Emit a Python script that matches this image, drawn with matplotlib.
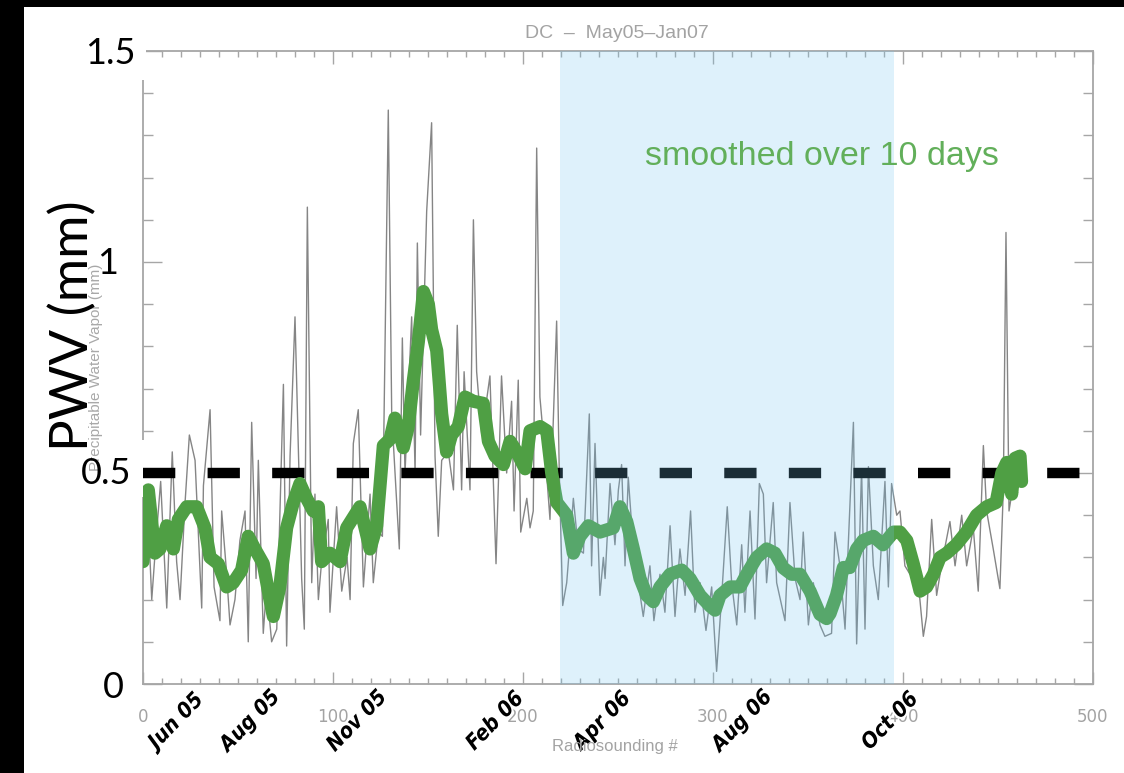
import matplotlib
matplotlib.use("Agg")
import matplotlib.pyplot as plt
import matplotlib.patheffects as pe
from matplotlib.patches import Rectangle
from matplotlib.ticker import MultipleLocator
from matplotlib.transforms import blended_transform_factory

# ---- data -------------------------------------------------------------
# individual radiosounding values (sounding number, PWV in mm)
raw_x = [0, 2, 4.6, 7, 9.3, 12.5, 15.4, 17.7, 19.5, 22,
         24.4, 27.4, 30.9, 31.8, 35.3, 37.4, 40.5, 41.4, 43.7, 45.8,
         48.4, 51, 53.7, 55.4, 57.2, 59.5, 60.7, 63.3, 65, 67.7,
         70.4, 73.9, 75.6, 77.4, 80, 83.5, 84.9, 86.5, 88.8, 90.5,
         92.3, 94, 97.5, 98.4, 101.9, 104.6, 107.4, 109, 110.7, 113.3,
         116, 119.5, 121.2, 123.9, 126, 129.1, 130.9, 134.9, 136.5, 137.9,
         141.4, 143.2, 144.4, 146.1, 149.3, 151.9, 153.7, 155.4, 157.2, 160.7,
         163.4, 165.4, 167.7, 169, 172.1, 173.9, 175.6, 178.3, 182.6, 185.8,
         188.7, 191.4, 194, 195.3, 197.5, 198.8, 202, 203.7, 205.4, 207.2,
         208.9, 212.4, 214.2, 217.7, 219.1, 220.9, 223, 226.5, 229.1, 231.8,
         234.9, 236.1, 237.9, 240.5, 242.3, 243.2, 245.8, 248.4, 250.2, 251.9,
         253.7, 255.4, 258.1, 263.3, 266.8, 268.9, 272.1, 274.7, 277.4, 280,
         282.6, 285.3, 288.2, 290.5, 293.2, 296.3, 299.3, 301.9, 304.6, 307.5,
         309.8, 312.5, 315.1, 316.8, 319.5, 322.1, 324.4, 326.5, 328.2, 331.7,
         333.5, 337.9, 340.5, 343.2, 345.8, 347.5, 350.2, 352.8, 356.3, 358.9,
         362.4, 364.2, 366.8, 369.5, 371.1, 373.9, 375.6, 378.2, 380, 381.8,
         384.4, 387, 390.5, 392.3, 394, 396.7, 398.4, 401, 403.7, 406.3,
         409, 410.7, 412.4, 415.1, 417.7, 420.4, 424.7, 427.4, 430.9, 433.5,
         437, 439.6, 442.3, 444, 447.5, 451, 452.8, 454.2, 455.8, 457.2,
         459]
raw_pwv = [0.30, 0.47, 0.20, 0.35, 0.48, 0.18, 0.55, 0.29, 0.20, 0.42,
           0.59, 0.53, 0.18, 0.47, 0.65, 0.23, 0.15, 0.41, 0.28, 0.14,
           0.20, 0.34, 0.41, 0.10, 0.62, 0.25, 0.53, 0.12, 0.23, 0.10,
           0.13, 0.71, 0.09, 0.54, 0.87, 0.25, 0.13, 1.13, 0.24, 0.45,
           0.20, 0.29, 0.39, 0.17, 0.42, 0.22, 0.30, 0.20, 0.57, 0.65,
           0.23, 0.45, 0.24, 0.36, 0.35, 1.36, 0.64, 0.32, 0.82, 0.50,
           0.87, 0.50, 1.045, 0.59, 1.12, 1.33, 0.54, 0.35, 0.53, 0.55,
           0.46, 0.85, 0.46, 0.74, 0.46, 1.10, 0.74, 0.59, 0.73, 0.285,
           0.73, 0.50, 0.67, 0.41, 0.72, 0.36, 0.44, 0.37, 0.41, 1.27,
           0.68, 0.50, 0.39, 0.86, 0.50, 0.186, 0.24, 0.44, 0.32, 0.31,
           0.64, 0.28, 0.57, 0.21, 0.30, 0.25, 0.475, 0.33, 0.46, 0.52,
           0.28, 0.49, 0.32, 0.16, 0.28, 0.15, 0.26, 0.17, 0.375, 0.16,
           0.32, 0.21, 0.41, 0.17, 0.24, 0.127, 0.23, 0.03, 0.21, 0.42,
           0.24, 0.14, 0.33, 0.17, 0.41, 0.154, 0.475, 0.45, 0.24, 0.43,
           0.24, 0.15, 0.43, 0.25, 0.20, 0.36, 0.14, 0.24, 0.14, 0.113,
           0.12, 0.36, 0.28, 0.13, 0.32, 0.62, 0.095, 0.51, 0.13, 0.515,
           0.28, 0.20, 0.48, 0.23, 0.475, 0.40, 0.41, 0.28, 0.26, 0.32,
           0.195, 0.113, 0.16, 0.39, 0.21, 0.285, 0.385, 0.28, 0.40, 0.28,
           0.37, 0.22, 0.565, 0.41, 0.32, 0.226, 0.46, 1.07, 0.41, 0.45,
           0.52]

# 10-day running mean
smooth_x = [0, 2.8, 6.3, 8.9, 12.5, 16, 18.6, 23, 28.2, 32.6,
            35.3, 39.6, 44, 47.5, 51.9, 55.4, 58.9, 63.3, 66.8, 68.6,
            72, 75.6, 79.1, 82.6, 86.1, 89.6, 92.3, 94, 98.4, 103.7,
            107.2, 114.2, 119.5, 123, 126.5, 130, 132.6, 135.3, 137, 139.6,
            142.3, 144.9, 147.6, 150.2, 151.9, 154.6, 157.2, 159.8, 162.4, 165.9,
            169.5, 173.9, 179.1, 181.8, 185.3, 189.7, 193.2, 196.7, 201.1, 203.7,
            209, 212.5, 215.1, 217.8, 223, 226.5, 230, 234.4, 240.5, 247.5,
            251, 254.6, 258.1, 261.6, 265.1, 268.6, 272.1, 277.4, 283.5, 287.9,
            293.2, 298.4, 301.1, 303.7, 309, 314.2, 317.7, 323, 328.2, 332.6,
            337, 341.4, 345.8, 351.1, 356.3, 359.8, 361.6, 365, 368.6, 372,
            375.6, 379, 384.4, 389.5, 395, 398.4, 402, 405.4, 409, 412.4,
            416, 419.5, 423, 428, 433.4, 438.7, 444, 449, 452, 454.6,
            457.2, 459, 461.6, 462.4]
smooth_pwv = [0.29, 0.46, 0.31, 0.32, 0.375, 0.32, 0.39, 0.42, 0.42, 0.37,
              0.30, 0.285, 0.23, 0.24, 0.27, 0.35, 0.32, 0.285, 0.20, 0.16,
              0.23, 0.37, 0.43, 0.475, 0.44, 0.41, 0.42, 0.29, 0.31, 0.29,
              0.37, 0.42, 0.32, 0.375, 0.565, 0.58, 0.63, 0.59, 0.56, 0.61,
              0.72, 0.81, 0.93, 0.90, 0.84, 0.79, 0.64, 0.55, 0.59, 0.61,
              0.68, 0.67, 0.665, 0.575, 0.54, 0.52, 0.575, 0.55, 0.51, 0.60,
              0.61, 0.60, 0.50, 0.43, 0.40, 0.31, 0.35, 0.375, 0.36, 0.37,
              0.42, 0.385, 0.32, 0.25, 0.21, 0.195, 0.23, 0.26, 0.27, 0.25,
              0.21, 0.185, 0.175, 0.21, 0.23, 0.23, 0.26, 0.30, 0.32, 0.31,
              0.275, 0.26, 0.26, 0.22, 0.165, 0.155, 0.167, 0.21, 0.276, 0.276,
              0.32, 0.34, 0.35, 0.33, 0.36, 0.36, 0.34, 0.285, 0.22, 0.23,
              0.26, 0.30, 0.31, 0.33, 0.36, 0.40, 0.42, 0.43, 0.50, 0.525,
              0.45, 0.535, 0.54, 0.48]

threshold = 0.5
season_span = (219.5, 395.5)

month_labels = ["Jun 05", "Aug 05", "Nov 05", "Feb 06", "Apr 06", "Aug 06", "Oct 06"]
month_pos = [17.4, 56.3, 112.6, 185.3, 241.6, 315.3, 393.2]
x_ticks = [0, 100, 200, 300, 400, 500]
y_ticks = [0, 0.5, 1, 1.5]
y_tick_text = ["0", "0.5", "1", "1.5"]

assert len(raw_x) == len(raw_pwv)
assert len(smooth_x) == len(smooth_pwv)

# ---- figure -----------------------------------------------------------
W, H = 1124, 773
fig = plt.figure(figsize=(W / 100, H / 100), dpi=100, facecolor="black")
fig.add_artist(Rectangle((24 / W, 0), 1 - 24 / W, 1 - 7 / H, transform=fig.transFigure,
                         facecolor="white", edgecolor="none", zorder=-10))

def fx(px):
    return px / W

def fy(py):
    return 1 - py / H

ax = fig.add_axes([fx(143), fy(684), (1093 - 143) / W, (684 - 51) / H])
ax.set_facecolor("none")
ax.set_xlim(0, 500)
ax.set_ylim(0, 1.5)

axis_grey = "#a6a6a6"
for s in ax.spines.values():
    s.set_color(axis_grey)
    s.set_linewidth(1.3)

ax.set_xticks(x_ticks)
ax.xaxis.set_minor_locator(MultipleLocator(10))
ax.set_yticks(y_ticks)
ax.yaxis.set_minor_locator(MultipleLocator(0.1))
ax.tick_params(which="both", direction="in", top=True, right=True,
               color=axis_grey, width=1.0, labelleft=False)
ax.tick_params(axis="x", which="major", length=9, labelsize=12,
               labelcolor="#a3a3a3", pad=17)
ax.tick_params(axis="x", which="minor", length=4)
ax.tick_params(axis="y", which="major", length=14)
ax.tick_params(axis="y", which="minor", length=7)

# raw soundings and smoothed curve
ax.plot(raw_x, raw_pwv, color="#858585", lw=1.0, zorder=2)
ax.axhline(threshold, color="black", lw=7.5, dashes=(3.1, 3.1), zorder=2.8)
ax.plot(smooth_x, smooth_pwv, color="#4f9f44", lw=9.5, solid_joinstyle="round",
        solid_capstyle="round", zorder=3)

# highlighted season drawn as a translucent overlay
ax.axvspan(*season_span, color="#73c4ee", alpha=0.235, lw=0, zorder=4)

ax.text(264.2, 1.23, "smoothed over 10 days", color="#62af5a", fontsize=24.5,
        family=["Liberation Sans", "DejaVu Sans"], ha="left", va="baseline", zorder=5)

# month annotations below the axis
tr = blended_transform_factory(ax.transData, fig.transFigure)
for lab, xm in zip(month_labels, month_pos):
    ax.text(xm, fy(721), lab, transform=tr, rotation=46, ha="center", va="center",
            rotation_mode="anchor", fontsize=15.5, fontweight="bold", fontstyle="italic",
            fontstretch="condensed", family=["DejaVu Sans"], color="black",
            clip_on=False, zorder=6,
            path_effects=[pe.withStroke(linewidth=3, foreground="white")])

fig.text(fx(615), fy(746), "Radiosounding #", color="#a3a3a3", fontsize=12,
         ha="center", va="center", family=["Liberation Sans", "DejaVu Sans"])
fig.text(fx(617), fy(33), "DC  \u2013  May05\u2013Jan07", color="#a3a3a3", fontsize=14,
         ha="center", va="center", family=["Liberation Sans", "DejaVu Sans"])
fig.text(fx(96), fy(367), "Precipitable Water Vapor (mm)", color="#a8a8a8", fontsize=11,
         rotation=90, ha="center", va="center", family=["Liberation Sans", "DejaVu Sans"])

# white label backgrounds over the left axis
ax.add_patch(Rectangle((fx(78), fy(80)), fx(146) - fx(78), fy(30) - fy(80),
                       transform=fig.transFigure, facecolor="white", edgecolor="none",
                       clip_on=False, zorder=2.6))
ax.add_patch(Rectangle((fx(85), fy(497)), fx(145) - fx(85), fy(440) - fy(497),
                       transform=fig.transFigure, facecolor="white", edgecolor="none",
                       clip_on=False, zorder=2.6))

# large axis annotations
big = dict(color="black", family=["Lato", "DejaVu Sans"], ha="right", va="center")
label_px = {"1.5": (136, 54), "1": (118, 263), "0.5": (131, 473), "0": (124, 687)}
for val, txt in zip(y_ticks, y_tick_text):
    xp, yp = label_px[txt]
    fig.text(fx(xp), fy(yp), txt, fontsize=26, **big)

fig.text(fx(73), fy(326), "PWV (mm)", fontsize=38, rotation=90, color="black",
         family=["Lato", "DejaVu Sans"], ha="center", va="center")

fig.savefig("out.png", dpi=100, facecolor=fig.get_facecolor())
